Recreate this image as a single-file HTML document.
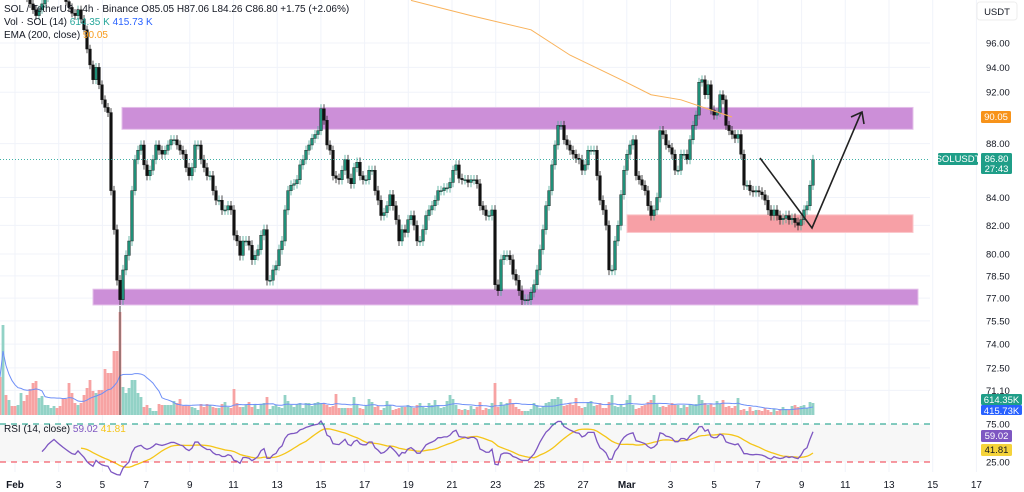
<!DOCTYPE html>
<html><head><meta charset="utf-8">
<style>
html,body{margin:0;padding:0;background:#fff;}
svg{display:block;font-family:"Liberation Sans",sans-serif;}
</style></head>
<body>
<svg id="chart" width="1024" height="492" viewBox="0 0 1024 492" xmlns="http://www.w3.org/2000/svg">
<rect width="1024" height="492" fill="#fff"/>
<g id="grid"></g>
<rect x="0" y="424" width="930" height="38" fill="#f7f7f7"/>
<g id="zones"></g>
<g id="vol"></g>
<g id="candles"></g>
<g id="overlay"></g>
<g id="rsi"></g>
<g id="axis"></g>
<g font-size="10" fill="#131722">
<text x="4" y="12">SOL / TetherUS · 4h · Binance  O85.05  H87.06  L84.26  C86.80  +1.75 (+2.06%)</text>
<text x="4" y="25">Vol · SOL (14) <tspan fill="#26a69a">614.35 K</tspan> <tspan fill="#2962ff">415.73 K</tspan></text>
<text x="4" y="38">EMA (200, close) <tspan fill="#f89c1c">90.05</tspan></text>
<text x="4" y="432">RSI (14, close) <tspan fill="#7e57c2">59.02</tspan> <tspan fill="#f5c518">41.81</tspan></text>
</g>
<g>
<rect x="977" y="2" width="40" height="18" rx="3" fill="#fff" stroke="#eee"/>
<text x="997" y="15" font-size="9.5" text-anchor="middle" fill="#131722">USDT</text>
</g>
</svg>
<script>
// ---- data ----
const closes = [101,101.5,100.8,101.2,100.5,100,100.5,101,100,99.8,
99.3,98.8,98.3,98.8,99.3,99.8,100.5,101,101.5,101,100.5,100,99.5,99.0,98.5,98.3,98.8,98.0,97.1,95.5,94.2,93.0,94.0,92.6,91.4,90.8,90.4,84.5,81.7,78.2,76.9,78.9,79.9,80.9,84.5,86.8,87.5,87.9,86.4,85.6,86.0,86.8,87.9,87.5,87.2,87.5,87.9,88.3,88.3,87.9,87.5,87.2,86.2,85.6,86.2,87.9,87.9,86.8,86.2,85.6,85.6,84.5,83.8,83.8,83.1,83.1,83.4,83.1,81.3,80.9,79.9,80.9,80.9,80.6,79.6,79.9,80.3,81.3,81.7,78.2,78.2,78.9,79.2,80.3,80.9,83.1,84.5,84.9,85.0,85.3,86.4,86.8,87.5,87.9,88.4,88.7,89.0,90.7,89.8,87.9,87.5,85.6,85.4,85.3,86.0,86.8,85.4,85.0,86.2,86.6,85.6,85.3,85.3,86.0,86.0,84.5,83.8,82.7,82.9,83.4,84.2,83.4,82.4,80.9,81.7,81.5,82.4,82.7,82.0,80.9,80.9,81.7,82.7,83.1,83.4,83.8,84.5,84.5,84.7,84.7,85.1,86.0,86.4,85.4,85.3,85.3,85.1,85.3,85.3,85.0,83.4,83.1,82.7,82.7,83.1,77.9,77.5,79.6,79.9,79.9,79.6,78.6,78.2,77.5,76.9,76.9,76.9,77.4,77.9,78.9,80.3,81.7,83.4,84.5,86.4,87.9,89.4,89.4,88.3,87.9,87.5,87.2,86.9,86.8,86.0,86.4,87.5,87.5,87.5,85.6,83.8,83.1,82.0,78.9,78.9,80.9,82.0,84.2,86.0,87.2,87.9,88.3,85.6,85.3,84.9,84.5,83.4,82.7,83.1,84.0,89.0,88.7,87.9,87.7,87.2,86.0,86.0,87.2,87.2,86.8,88.3,89.4,90.2,92.8,93.0,91.8,92.6,90.6,90.2,90.4,91.8,91.4,89.4,89.0,88.7,88.4,88.7,87.2,84.9,84.9,84.5,84.4,84.5,84.4,84.2,83.8,83.1,82.7,83.1,82.7,82.4,82.5,82.7,82.4,82.5,82.2,82.0,82.4,83.1,83.4,84.9,86.8];
const volumesK = [1900,4500,1000,750,450,450,500,1100,700,1000,1300,1600,1700,850,950,500,500,350,450,350,450,800,800,1600,1100,600,500,600,1000,1350,1750,1200,1100,1250,1250,2300,2100,2100,3200,3200,5150,1400,1100,1350,1750,1750,1100,900,400,500,350,200,200,550,500,500,500,500,700,600,800,450,450,450,400,350,250,550,400,550,500,400,350,350,550,650,400,350,1300,600,400,400,500,650,400,500,300,550,600,900,300,450,500,400,350,1000,700,500,400,550,600,350,600,600,450,600,650,600,600,500,400,450,1050,350,350,350,350,350,900,500,350,300,450,800,650,400,450,250,350,700,500,250,300,350,400,400,500,400,350,500,600,400,350,600,500,750,500,350,400,700,1000,800,500,300,250,300,250,450,300,400,650,250,350,300,600,1600,400,650,500,600,800,600,400,300,200,200,200,300,600,500,350,450,600,650,800,800,900,800,450,500,600,500,850,450,350,400,650,700,450,500,600,350,350,650,1000,450,400,500,400,750,1000,500,300,350,450,500,650,750,1000,550,400,450,400,500,600,500,500,350,500,400,550,500,550,1000,750,600,500,550,400,700,550,750,400,450,350,450,850,250,300,200,400,200,250,250,200,350,250,150,300,200,300,400,300,250,450,500,400,450,500,350,650,600];
const emaIdx = [137,157,177,190,207,217,227,237,244];
const emaVals = [99.6,98.3,97.1,95.0,93.0,91.8,91.4,90.6,90.05];
const priceTicks = [96,94,92,88,84,82,80,78.5,77,75.5,74,72.5,71.1];
const dayTicks = [1,3,5,7,9,11,13,15,17,19,21,23,25,27,29,31,33,35,37,39,41,43,45];
const dayLabels = ["Feb","3","5","7","9","11","13","15","17","19","21","23","25","27","Mar","3","5","7","9","11","13","15","17"];
const zoneTop = [89.1,90.8], zoneBottom = [76.55,77.6], zoneSupport = [81.5,82.75];

// ---- scales ----
const NS="http://www.w3.org/2000/svg";
const startDay=0.3135, stepDay=0.1373;
const xDay=d=>15+(d-1)*21.85;
const xI=i=>xDay(startDay+i*stepDay);
const yP=p=>43+1157*Math.log(96/p);
const yV=v=>415-v/50;
const yR=r=>424+(75-r)*0.76;
function el(t,a,parent){const e=document.createElementNS(NS,t);for(const k in a)e.setAttribute(k,a[k]);document.getElementById(parent).appendChild(e);return e;}

// grid
priceTicks.forEach(p=>{const l=el('line',{x1:0,x2:930,y1:yP(p),y2:yP(p),stroke:'#f0f3fa'},'grid');

});
dayTicks.forEach(d=>{const l=el('line',{x1:xDay(d),x2:xDay(d),y1:0,y2:472,stroke:'#f0f3fa'},'grid');

});

// zones
[[zoneTop,122,913,'#cc8fd8','resistance-zone'],[zoneBottom,93,918,'#cc8fd8','support-zone'],[zoneSupport,627,913,'#f7a0a6','demand-zone']].forEach(z=>{
const r=el('rect',{x:z[1],width:z[2]-z[1],y:yP(z[0][1]),height:yP(z[0][0])-yP(z[0][1]),fill:z[3],stroke:z[3]==='#cc8fd8'?'#e4c0ea':'#fbc6ca'},'zones');

});

// volume
volumesK.forEach((v,i)=>{const up=i===0?false:closes[i]>=closes[i-1];
const r=el('rect',{x:xI(i)-1.4,width:2.8,y:yV(v),height:415-yV(v),fill:up?'#92d2c6':'#f7a3a3'},'vol');

});
// volume MA
let vpts=[];for(let i=0;i<volumesK.length;i++){const s=volumesK.slice(Math.max(0,i-13),i+1);vpts.push(xI(i)+','+yV(s.reduce((a,b)=>a+b,0)/s.length));}
const vma=el('polyline',{points:vpts.join(' '),fill:'none',stroke:'#6e8ff7','stroke-width':1},'vol');


const ch=el('line',{x1:xI(40),x2:xI(40),y1:306,y2:415,stroke:'#444','stroke-width':1},'vol');



// candles
closes.forEach((c,i)=>{const o=i===0?c:closes[i-1];const up=c>=o;
const hi=Math.max(o,c)+0.35,lo=Math.min(o,c)-0.35;
const w=el('line',{x1:xI(i),x2:xI(i),y1:yP(hi),y2:yP(lo),stroke:up?'#4aa996':'#222','stroke-width':0.8},'candles');


const top=yP(Math.max(o,c)),bot=yP(Math.min(o,c));
const b=el('rect',{x:xI(i)-1.4,width:2.8,y:top,height:Math.max(1,bot-top),fill:up?'#1f8f78':'#111',stroke:'#111','stroke-width':0.4},'candles');

});
// ema
const ema=el('polyline',{points:emaIdx.map((k,j)=>xI(k)+','+yP(emaVals[j])).join(' '),fill:'none',stroke:'#f9b25a','stroke-width':1},'overlay');


// last price line
const lp=el('line',{x1:0,x2:930,y1:yP(86.8),y2:yP(86.8),stroke:'#26a69a','stroke-dasharray':'1 2','stroke-width':0.8},'overlay');


// projection arrow
const ar=el('polyline',{points:'760,158 812,228 861,113',fill:'none',stroke:'#222','stroke-width':1.6},'overlay');


const ah=el('polyline',{points:'851,117 862,112 864,124',fill:'none',stroke:'#222','stroke-width':1.6},'overlay');



// RSI
const rsi=[],P=14;let ag=0,al=0;
for(let i=1;i<closes.length;i++){const d=closes[i]-closes[i-1];const g=Math.max(d,0),l=Math.max(-d,0);
if(i<=P){ag+=g/P;al+=l/P;if(i<P){rsi.push(null);continue;}}else{ag=(ag*(P-1)+g)/P;al=(al*(P-1)+l)/P;}
rsi.push(al===0?100:100-100/(1+ag/al));}
rsi.unshift(null);
const rsiMa=rsi.map((v,i)=>{const s=rsi.slice(Math.max(0,i-13),i+1).filter(x=>x!==null);return s.length<14?null:s.reduce((a,b)=>a+b,0)/s.length;});
function line(arr,color,name){const pts=[];arr.forEach((v,i)=>{if(v!==null)pts.push(xI(i)+','+yR(v));});
const p=el('polyline',{points:pts.join(' '),fill:'none',stroke:color,'stroke-width':1.3},'rsi');

}
line(rsiMa,'#f5c518','rsi-ma-line');line(rsi,'#7e57c2','rsi-line');
[[75,'#089981','rsi-upper-band'],[25,'#f23645','rsi-lower-band']].forEach(b=>{const l=el('line',{x1:0,x2:930,y1:yR(b[0]),y2:yR(b[0]),stroke:b[1],'stroke-dasharray':'6 5','stroke-width':1},'rsi');

});

// axes
priceTicks.forEach(p=>{const t=el('text',{x:986,y:yP(p)+3.5,'font-size':9.5,fill:'#131722'},'axis');t.textContent=p.toFixed(2);

});
[75,25].forEach(r=>{const t=el('text',{x:986,y:yR(r)+3.5,'font-size':9.5,fill:'#131722'},'axis');t.textContent=r.toFixed(2);

});
dayTicks.forEach((d,k)=>{const lab=dayLabels[k];const t=el('text',{x:xDay(d),y:488,'font-size':10,'text-anchor':'middle',fill:'#131722','font-weight':(lab==='Feb'||lab==='Mar')?'bold':'normal'},'axis');t.textContent=lab;

});
function badge(x,y,w,h,bg,txt,name,fg){const r=el('rect',{x:x,y:y,width:w,height:h,fill:bg,rx:1.5},'axis');


txt.forEach((s,j)=>{const t=el('text',{x:x+w/2,y:y+9+j*10,'font-size':9.5,'text-anchor':'middle',fill:fg||'#fff'},'axis');t.textContent=s;});}
badge(981,111,30,12,'#f7931a',['90.05'],'ema-price-badge');
badge(938,153,40,12,'#1f9e88',['SOLUSDT'],'symbol-badge');
badge(981,153,31,21,'#1f9e88',['86.80','27:43'],'last-price-badge');
badge(981,394,41,11,'#1f9e88',['614.35K'],'volume-badge');
badge(981,405,41,10,'#2962ff',['415.73K'],'volume-ma-badge');
badge(981,430,31,12,'#7e57c2',['59.02'],'rsi-badge');
badge(981,444,31,12,'#f5d33a',['41.81'],'rsi-ma-badge','#131722');
</script>
</body></html>
